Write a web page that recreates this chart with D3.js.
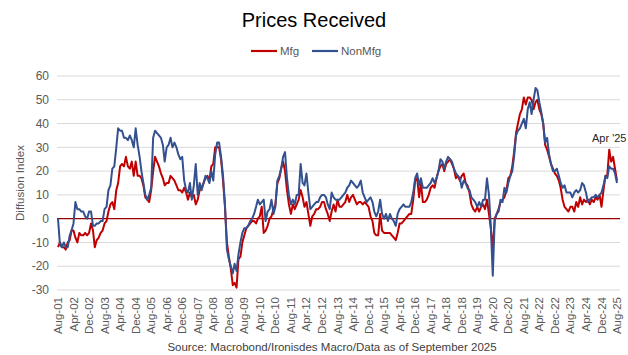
<!DOCTYPE html>
<html><head><meta charset="utf-8">
<script src="https://cdn.jsdelivr.net/npm/d3@7"></script>
<style>body{margin:0;background:#fff} svg{display:block;font-family:"Liberation Sans",Arial,sans-serif}</style>
</head><body><svg id="c" width="628" height="355"></svg>
<script>
// Monthly data, Aug-2001 .. Aug-2025
const firstMonth = "Aug-01";
const mfg = [
  -12, -10, -12, -12, -13,
  -10, -9, -5, -5, -8, -10, -6, -7, -7, -6, -7, -6,
  -2, -5, -12, -9, -8, -6, -5, -2, -1, 3, 6, 7,
  4, 12, 15, 22, 23, 22, 26, 22, 21, 24, 18, 24,
  18, 18, 17, 14, 9, 8, 7, 12, 20, 26, 24, 22,
  19, 17, 14, 15, 15, 18, 17, 16, 14, 12, 12, 11,
  13, 11, 8, 11, 9, 10, 6, 8, 12, 13, 15, 17,
  18, 16, 22, 23, 30, 30, 30, 25, 16, 5, -10, -16,
  -21, -28, -27, -29, -17, -16, -10, -7, -4, -3, -2, -1,
  -1, -2, 0, 1, 5, -6, -5, -3, 0, 1, 4, 6,
  15, 17, 21, 24, 20, 12, 6, 2, 6, 4, 6, 8,
  12, 9, 5, 7, 2, -3, 1, 2, 4, 4, 5, 7,
  7, 4, 2, -1, 3, 6, 3, 8, 5, 5, 6, 7,
  10, 7, 9, 10, 8, 6, 7, 7, 6, 7, 6, 5,
  1, -1, -6, -7, -7, 2, -5, -6, -6, -6, -6, -7,
  -8, -9, -6, -2, -2, -1, 0, 1, 2, 2, 8, 16,
  17, 9, 15, 7, 7, 8, 10, 13, 14, 13, 17, 20,
  22, 23, 20, 23, 24, 25, 23, 21, 17, 18, 16, 18,
  19, 15, 14, 11, 6, 4, 3, 5, 3, 5, 6, 4,
  8, 2, -4, -13, 0, 2, 4, 7, 8, 9, 12, 17,
  18, 22, 28, 36, 40, 44, 46, 51, 48, 51, 51, 50,
  46, 49, 50, 46, 44, 40, 31, 29, 26, 23, 21, 19,
  18, 16, 13, 8, 5, 4, 3, 5, 5, 3, 7, 5,
  9, 6, 8, 7, 8, 6, 8, 7, 9, 8, 10, 5,
  12, 18, 18, 29, 24, 26, 21, 16
];
const nonMfg = [
  0, -11, -12, -10, -12,
  -12, -7, -5, -2, 7, 4, 4, 3, 3, 1, 0, 3,
  3, -3, -3, -2, -2, -1, -1, 4, 5, 12, 14, 21,
  22, 30, 38, 37, 37, 34, 34, 33, 35, 33, 30, 38,
  31, 26, 20, 15, 10, 8, 10, 13, 34, 37, 36, 35,
  34, 31, 24, 30, 31, 34, 30, 32, 30, 27, 25, 26,
  16, 12, 11, 15, 8, 14, 23, 10, 15, 12, 15, 18,
  17, 15, 20, 16, 27, 32, 32, 26, 18, 6, -13, -17,
  -20, -23, -19, -22, -15, -10, -6, -4, -4, -3, -1, 0,
  2, 5, 8, 6, 7, 8, -1, 3, 4, 8, 2, 5,
  16, 18, 21, 26, 28, 17, 10, 6, 8, 6, 10, 10,
  23, 15, 14, 19, 11, 4, 5, 6, 7, 7, 9, 10,
  10, 9, 6, 4, 11, 9, 8, 8, 8, 9, 10, 11,
  13, 14, 16, 15, 14, 13, 14, 16, 11, 9, 7, 8,
  9, 7, 3, 1, 3, 8, 2, 0, 2, -1, 2, 0,
  -1, -3, 2, 4, 5, 6, 5, 5, 5, 7, 11, 17,
  19, 14, 17, 13, 13, 13, 14, 15, 17, 15, 17, 20,
  25, 24, 21, 24, 26, 25, 24, 21, 19, 18, 17, 13,
  16, 15, 13, 12, 9, 8, 7, 5, 7, 5, 8, 8,
  17, 10, -3, -24, -1, 2, 3, 8, 7, 13, 11, 15,
  18, 20, 26, 35, 37, 38, 40, 42, 38, 46, 49, 44,
  50, 55, 54, 49, 45, 40, 32, 34, 27, 23, 20, 20,
  21, 18, 15, 13, 14, 11, 11, 11, 9, 11, 12, 11,
  12, 15, 14, 11, 7, 8, 9, 9, 10, 9, 10, 11,
  14, 18, 17, 22, 21, 21, 19, 15
];
const tickLabels = ["Aug-01","Apr-02","Dec-02","Aug-03","Apr-04","Dec-04","Aug-05","Apr-06","Dec-06",
  "Aug-07","Apr-08","Dec-08","Aug-09","Apr-10","Dec-10","Aug-11","Apr-12","Dec-12","Aug-13","Apr-14",
  "Dec-14","Aug-15","Apr-16","Dec-16","Aug-17","Apr-18","Dec-18","Aug-19","Apr-20","Dec-20","Aug-21",
  "Apr-22","Dec-22","Aug-23","Apr-24","Dec-24","Aug-25"];
const yTicks = [-30, -20, -10, 0, 10, 20, 30, 40, 50, 60];
const seriesNames = ["Mfg", "NonMfg"];
const seriesColors = ["#C00000", "#34518F"];
const annotationLabel = "Apr '25";
const annotationMonth = "Apr-25";
const titleText = "Prices Received";
const yTitle = "Diffusion Index";
const sourceText = "Source: Macrobond/Ironisdes Macro/Data as of September 2025";

const svg = d3.select("#c");
const parse = d3.timeParse("%b-%y");
const start = parse(firstMonth);
const dates = mfg.map((_, i) => d3.timeMonth.offset(start, i));

const x = d3.scaleTime().domain([dates[0], dates[dates.length - 1]]).range([58, 617]);
const y = d3.scaleLinear().domain([-30, 60]).range([290, 76]);

// gridlines
svg.append("g").selectAll("line").data(yTicks.filter(d => d !== 0)).join("line")
  .attr("x1", 57).attr("x2", 620)
  .attr("y1", d => y(d)).attr("y2", d => y(d))
  .attr("stroke", "#d9d9d9").attr("stroke-width", 1);

// y labels
svg.append("g").selectAll("text").data(yTicks).join("text")
  .attr("x", 49).attr("y", d => y(d)).attr("dy", "0.35em")
  .attr("text-anchor", "end").attr("font-size", 12).attr("fill", "#595959")
  .text(d => d);

// y title
svg.append("text").attr("transform", `translate(20,${(y(60) + y(-30)) / 2}) rotate(-90)`)
  .attr("text-anchor", "middle").attr("dy", "0.35em").attr("font-size", 11.5).attr("fill", "#595959")
  .text(yTitle);

// x labels
svg.append("g").selectAll("text").data(tickLabels).join("text")
  .attr("transform", d => `translate(${x(parse(d))},297) rotate(-90)`)
  .attr("text-anchor", "end").attr("dy", "0.35em").attr("font-size", 11.5).attr("fill", "#595959")
  .text(d => d);

// zero line
svg.append("line").attr("x1", 57).attr("x2", 620).attr("y1", y(0)).attr("y2", y(0))
  .attr("stroke", "#990000").attr("stroke-width", 1.2);

// series lines
const line = d3.line().x((d, i) => x(dates[i])).y(d => y(d));
[mfg, nonMfg].forEach((s, k) => {
  svg.append("path").datum(s).attr("d", line).attr("fill", "none")
    .attr("stroke", seriesColors[k]).attr("stroke-width", 2).attr("stroke-linejoin", "round");
});

// annotation
const annIdx = dates.findIndex(d => +d === +parse(annotationMonth));
svg.append("text").attr("x", x(dates[annIdx])).attr("y", y(mfg[annIdx]) - 8)
  .attr("text-anchor", "middle").attr("font-size", 11).attr("fill", "#262626")
  .text(annotationLabel);

// title
svg.append("text").attr("x", 314).attr("y", 27).attr("text-anchor", "middle")
  .attr("font-size", 20).attr("fill", "#000").text(titleText);

// legend
const leg = [{x: 251, tx: 280}, {x: 312, tx: 341}];
seriesNames.forEach((n, k) => {
  svg.append("line").attr("x1", leg[k].x).attr("x2", leg[k].x + 26).attr("y1", 51).attr("y2", 51)
    .attr("stroke", seriesColors[k]).attr("stroke-width", 2.2);
  svg.append("text").attr("x", leg[k].tx).attr("y", 51).attr("dy", "0.35em")
    .attr("font-size", 11.5).attr("fill", "#595959").text(n);
});

// source
svg.append("text").attr("x", 332).attr("y", 351).attr("text-anchor", "middle")
  .attr("font-size", 11.5).attr("fill", "#404040").text(sourceText);
</script></body></html>
